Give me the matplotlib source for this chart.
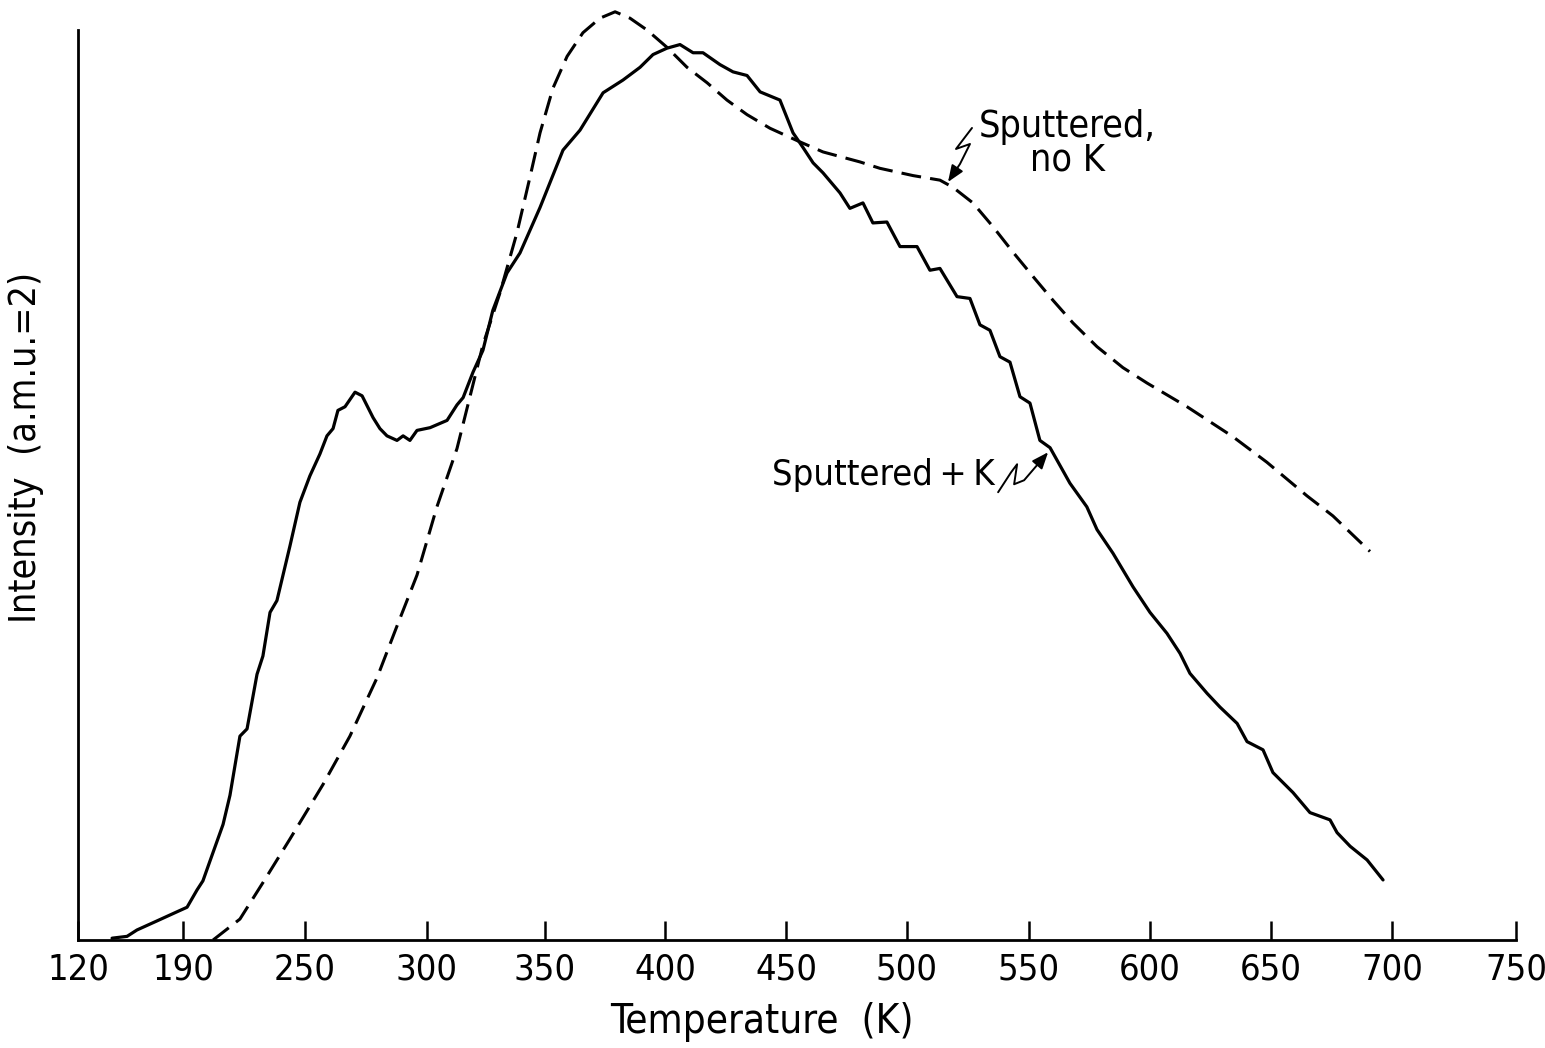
import numpy as np
import matplotlib
matplotlib.use("Agg")
import matplotlib.pyplot as plt
from matplotlib.path import Path
from matplotlib.patches import FancyArrowPatch
from matplotlib.transforms import IdentityTransform, ScaledTranslation

# Axis tick values (non-uniform temperature axis, evenly drawn)
tick_vals = [120, 190, 250, 300, 350, 400, 450, 500, 550, 600, 650, 700, 750]
tick_pos = [0.0, 105, 227, 349, 467, 587, 708, 829, 951, 1072, 1193, 1314, 1438]

# Sputtered + K (solid)
T_k = [142.7, 152.7, 159.3, 172.7, 186.0, 192.0, 196.9, 199.8, 203.3, 209.7, 213.1, 218.0,
       221.5, 226.4, 229.3, 232.8, 236.2, 242.6, 247.5, 252.0, 256.1, 259.0, 261.5, 263.5,
       266.4, 270.5, 273.4, 277.9, 280.7, 283.6, 287.7, 290.2, 293.0, 295.9, 301.3, 308.5,
       312.7, 315.3, 319.5, 323.7, 327.9, 333.9, 339.4, 347.9, 357.5, 364.6, 374.2, 382.5,
       389.6, 395.0, 400.8, 406.2, 411.6, 415.7, 422.7, 428.1, 433.9, 439.3, 447.5, 452.9,
       457.0, 461.2, 465.3, 472.3, 476.4, 481.8, 485.9, 491.7, 497.1, 504.1, 509.4, 513.5,
       520.5, 525.8, 529.9, 534.0, 538.1, 542.2, 546.3, 550.4, 554.5, 558.7, 566.9, 573.9,
       578.1, 584.7, 593.0, 600.0, 607.0, 612.4, 616.5, 623.6, 628.9, 636.0, 640.1, 646.7,
       650.8, 659.1, 666.1, 674.4, 677.3, 682.7, 689.7, 696.3]
I_k = [0.2, 0.4, 1.1, 2.1, 3.1, 3.6, 5.5, 6.5, 8.7, 12.7, 15.9, 22.4,
       23.2, 29.2, 31.2, 36.0, 37.3, 43.3, 48.1, 51.0, 53.4, 55.4, 56.2, 58.2,
       58.6, 60.2, 59.8, 57.4, 56.2, 55.4, 54.9, 55.4, 54.9, 56.0, 56.3, 57.1,
       58.8, 59.6, 62.4, 64.8, 69.2, 73.3, 75.5, 80.5, 86.8, 89.0, 93.1, 94.5,
       95.9, 97.3, 98.0, 98.4, 97.5, 97.5, 96.2, 95.4, 95.0, 93.2, 92.3, 88.7,
       87.1, 85.4, 84.3, 82.1, 80.4, 81.0, 78.8, 78.9, 76.2, 76.2, 73.6, 73.8,
       70.7, 70.5, 67.6, 67.0, 64.1, 63.5, 59.7, 59.0, 54.9, 54.1, 50.2, 47.6,
       45.1, 42.5, 38.8, 36.0, 33.7, 31.5, 29.3, 27.1, 25.6, 23.8, 21.8, 20.9,
       18.4, 16.2, 14.0, 13.2, 11.8, 10.3, 8.8, 6.6]

# Sputtered, no K (dashed)
T_nok = [204.8, 218.0, 229.3, 242.6, 257.4, 268.4, 279.5, 287.7, 295.9, 304.2, 312.7, 318.0,
         323.7, 330.9, 338.1, 343.6, 347.9, 353.3, 359.2, 365.8, 372.9, 379.2, 385.4, 392.5,
         400.8, 409.1, 417.4, 425.6, 433.9, 443.4, 455.8, 465.3, 480.6, 488.8, 502.5, 513.5,
         518.9, 527.0, 535.2, 543.4, 551.7, 559.9, 568.2, 578.1, 588.8, 598.8, 615.3, 634.3,
         648.3, 664.9, 675.6, 690.9]
I_nok = [0.0, 2.3, 6.3, 11.1, 17.1, 22.4, 28.8, 34.5, 40.1, 47.6, 54.0, 59.5,
         65.4, 71.1, 77.7, 83.8, 88.7, 93.6, 97.1, 99.7, 101.3, 102.0, 101.3, 100.0,
         98.1, 95.9, 94.2, 92.3, 90.7, 89.2, 87.7, 86.6, 85.5, 84.8, 84.0, 83.5,
         82.7, 81.0, 78.4, 75.6, 72.9, 70.3, 67.8, 65.2, 62.9, 61.2, 58.6, 55.3,
         52.5, 48.8, 46.6, 42.7]

# annotation targets (T, intensity)
ann_nok = (516.8, 83.3)
ann_k = (557.9, 53.6)

FONT = "DejaVu Sans"
STRETCH = "condensed"


def fwd(t):
    return np.interp(t, tick_vals, tick_pos)


def inv(p):
    return np.interp(p, tick_pos, tick_vals)


W, H = 1545, 1048
fig = plt.figure(figsize=(W / 100, H / 100), dpi=100)
ax = fig.add_axes([78 / W, 1 - 940 / H, (1516 - 78) / W, (940 - 30) / H])
ax.set_xscale("function", functions=(fwd, inv))

ax.plot(T_k, I_k, color="black", lw=2.3, clip_on=False,
        solid_joinstyle="round", solid_capstyle="round")
ax.plot(T_nok, I_nok, color="black", lw=2.2, clip_on=False, dashes=(6.5, 3.0),
        dash_capstyle="butt")

ax.set_xlim(120, 750)
ax.set_ylim(0, 100)
ax.spines["top"].set_visible(False)
ax.spines["right"].set_visible(False)
ax.spines["left"].set_linewidth(2.0)
ax.spines["bottom"].set_linewidth(2.0)
ax.set_yticks([])
ax.set_xticks(tick_vals)
ax.set_xticklabels([str(v) for v in tick_vals], fontsize=26, family=FONT,
                   fontstretch=STRETCH)
first = ax.get_xticklabels()[0]
first.set_transform(first.get_transform() + ScaledTranslation(0.15, 0, fig.dpi_scale_trans))
ax.minorticks_off()
ax.tick_params(axis="x", direction="in", length=14, width=1.8, pad=9)

ax.set_xlabel("Temperature  (K)", fontsize=29, family=FONT, fontstretch=STRETCH)
ax.xaxis.set_label_coords((762 - 78) / 1438, -(1002 - 940) / 910)
ax.set_ylabel("Intensity  (a.m.u.=2)", fontsize=27, family=FONT, fontstretch=STRETCH)
ax.yaxis.set_label_coords(-(78 - 44) / 1438, (940 - 447) / 910)

# text labels
ax.text(inv(1067 - 78), 100 - (127 - 30) / 9.1, "Sputtered,", fontsize=27,
        family=FONT, fontstretch=STRETCH, ha="center", va="center")
ax.text(inv(1067 - 78), 100 - (160 - 30) / 9.1, "no K", fontsize=27, family=FONT,
        fontstretch=STRETCH, ha="center", va="center")
ax.text(inv(995 - 78), 100 - (475 - 30) / 9.1, "Sputtered\u2009+\u2009K", fontsize=26,
        family=FONT, fontstretch=STRETCH, ha="right", va="center")

fig.canvas.draw()


def squiggle_arrow(tip, offsets):
    tx, ty = ax.transData.transform(tip)
    verts = [(tx + dx, ty - dy) for dx, dy in offsets] + [(tx, ty)]
    codes = [Path.MOVETO] + [Path.LINETO] * (len(verts) - 1)
    arr = FancyArrowPatch(path=Path(verts, codes), transform=IdentityTransform(),
                          arrowstyle="-|>,head_length=4,head_width=1.6",
                          color="black", lw=1.4, mutation_scale=2.5,
                          joinstyle="round", capstyle="round")
    fig.add_artist(arr)


# offsets in pixels relative to the tip (dx right, dy down)
squiggle_arrow(ann_nok, [(24, -54), (8, -33), (22, -38), (12, -18)])
squiggle_arrow(ann_k, [(-50, 40), (-37, 20), (-31, 12), (-34, 32), (-24, 28)])

fig.savefig("out.png", dpi=100, facecolor="white")
